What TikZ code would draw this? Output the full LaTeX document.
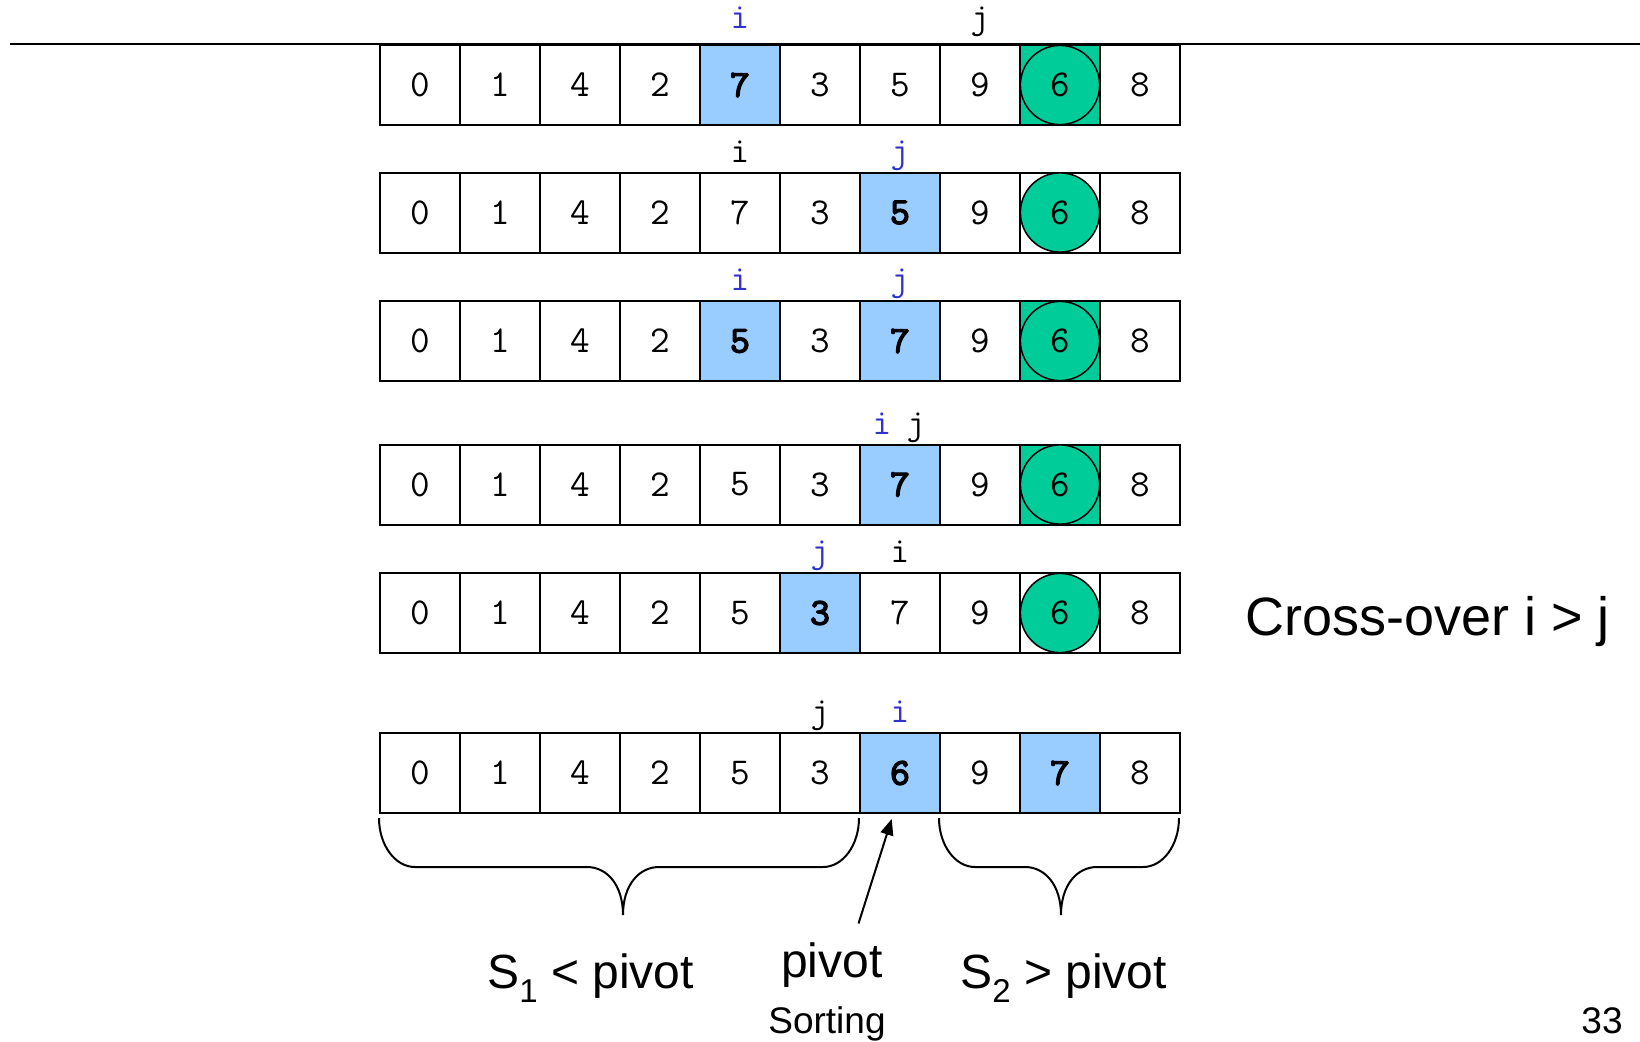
\documentclass[tikz,border=0pt]{standalone}
\usepackage{fontspec}
\usetikzlibrary{arrows.meta,calc}
\newfontfamily\arial{Liberation Sans}
\newfontfamily\ttheavy{lmmono10-regular.otf}[FakeBold=3.5]
\definecolor{hotblue}{HTML}{99CCFF}
\definecolor{pivgreen}{HTML}{00CC99}
\definecolor{ptrblue}{HTML}{3333CC}
\newcommand\cellfont{\ttfamily\fontsize{19}{19}\selectfont}
\newcommand\heavyfont{\ttheavy\fontsize{19}{19}\selectfont}
\newcommand\markfont{\ttfamily\fontsize{18}{18}\selectfont}
\newcommand\lowsub[1]{\raisebox{-7pt}{\fontsize{16.5}{16.5}\selectfont #1}}
% one row of ten cells: #1 row name, #2 top edge, #3 value/style pairs
\newcommand\cellrow[3]{%
  \foreach \v/\s [count=\c] in {#3}
    \node[cell,\s] (#1c\c) at ({379+80*(\c-1)},#2) {\v};}
\begin{document}
\begin{tikzpicture}[x=0.5pt,y=-0.5pt,
  cell/.style={draw, line width=1pt, minimum width=40pt, minimum height=40pt,
    inner sep=0pt, anchor=north west, font=\cellfont},
  plain/.style={},
  hot/.style={fill=hotblue, font=\heavyfont},
  piv/.style={fill=pivgreen},
  ring/.style={circle, draw, line width=0.75pt, fill=pivgreen, minimum size=39.6pt,
    inner sep=0pt, font=\cellfont},
  mk/.style={anchor=base, inner sep=0pt, font=\markfont},
  bmk/.style={mk, text=ptrblue},
  big/.style={inner sep=0pt, font=\arial\fontsize{24}{24}\selectfont},
  small/.style={inner sep=0pt, anchor=base, font=\arial\fontsize{18.5}{18.5}\selectfont},
  brace/.style={line width=1pt},
]
\useasboundingbox (0,0) rectangle (1640,1041);

% top rule
\coordinate (rule-l) at (10,44);
\coordinate (rule-r) at (1640,44);
\draw[line width=1pt] (rule-l) -- (rule-r);

% the six states of the array
\cellrow{r1}{44}{0/plain,1/plain,4/plain,2/plain,7/hot,3/plain,5/plain,9/plain,{}/piv,8/plain}
\cellrow{r2}{171.5}{0/plain,1/plain,4/plain,2/plain,7/plain,3/plain,5/hot,9/plain,{}/plain,8/plain}
\cellrow{r3}{300}{0/plain,1/plain,4/plain,2/plain,5/hot,3/plain,7/hot,9/plain,{}/piv,8/plain}
\cellrow{r4}{443.5}{0/plain,1/plain,4/plain,2/plain,5/plain,3/plain,7/hot,9/plain,{}/piv,8/plain}
\cellrow{r5}{572}{0/plain,1/plain,4/plain,2/plain,5/plain,3/hot,7/plain,9/plain,{}/plain,8/plain}
\cellrow{r6}{732}{0/plain,1/plain,4/plain,2/plain,5/plain,3/plain,6/hot,9/plain,7/hot,8/plain}

% pivot marker
\foreach \r in {r1,r2,r3,r4,r5}
  \node[ring] (\r pv) at (\r c9.center) {6};

% i / j pointers
\node[bmk] (r1i) at ([yshift=7.6pt]r1c5.north) {i};
\node[mk]  (r1j) at ([yshift=7.6pt]r1c8.north) {j};
\node[mk]  (r2i) at ([yshift=4.7pt]r2c5.north) {i};
\node[bmk] (r2j) at ([yshift=4.7pt]r2c7.north) {j};
\node[bmk] (r3i) at ([yshift=4.7pt]r3c5.north) {i};
\node[bmk] (r3j) at ([yshift=4.7pt]r3c7.north) {j};
\node[bmk] (r4i) at ([xshift=-9pt,yshift=4.7pt]r4c7.north) {i};
\node[mk]  (r4j) at ([xshift=8pt,yshift=4.7pt]r4c7.north) {j};
\node[bmk] (r5j) at ([yshift=4.7pt]r5c6.north) {j};
\node[mk]  (r5i) at ([yshift=4.7pt]r5c7.north) {i};
\node[mk]  (r6j) at ([yshift=4.7pt]r6c6.north) {j};
\node[bmk] (r6i) at ([yshift=4.7pt]r6c7.north) {i};

\node[big, anchor=base west, font=\arial\fontsize{27}{27}\selectfont] (cross) at (1245,635) {Cross-over i > j};

% braces under the partitions
\draw[brace] (379,818) .. controls (379,845) and (395,867) .. (415,867) -- (587,867)
  .. controls (607,867) and (623,885) .. (623,915)
  .. controls (623,885) and (639,867) .. (659,867) -- (823,867)
  .. controls (843,867) and (859,845) .. (859,818);
\draw[brace] (939,818) .. controls (939,845) and (955,867) .. (975,867) -- (1025,867)
  .. controls (1045,867) and (1061,885) .. (1061,915)
  .. controls (1061,885) and (1077,867) .. (1097,867) -- (1143,867)
  .. controls (1163,867) and (1179,845) .. (1179,818);

% arrow to the pivot
\coordinate (pv-tail) at (858.5,923.5);
\coordinate (pv-tip) at (891.7,819);
\draw[line width=1pt, -{Triangle[length=8pt,width=6.5pt]}] (pv-tail) -- (pv-tip);

\node[big, anchor=base west] (s1) at (487,988) {S\lowsub{1} < pivot};
\node[big, anchor=base] (pv) at (832,977) {pivot};
\node[big, anchor=base west] (s2) at (960,988) {S\lowsub{2} > pivot};
\node[small] (sorting) at (827,1033) {Sorting};
\node[small] (pageno) at (1602,1033) {33};
\end{tikzpicture}
\end{document}
